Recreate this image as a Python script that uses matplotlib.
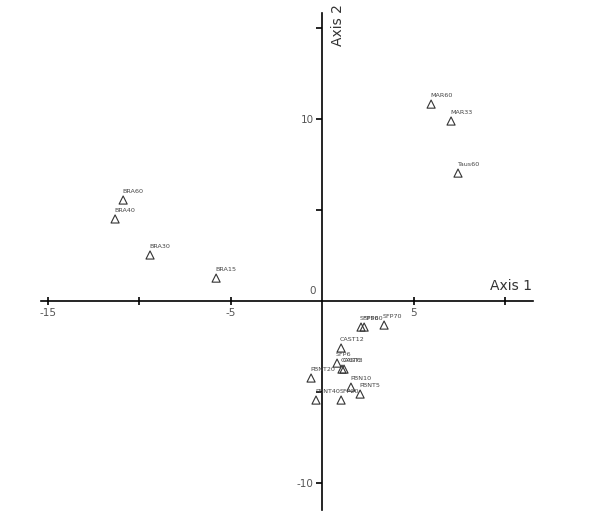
import matplotlib
matplotlib.use("Agg")
import matplotlib.pyplot as plt

labels = ["MAR60", "MAR33", "Taus60", "BRA60", "BRA40", "BRA30", "BRA15",
          "SFP70", "SFP50", "SFP60", "CAST12", "SFP6", "CAST6", "CAST3",
          "PBNT20", "PBN10", "PBNT5", "PBNT40", "SFP20"]
axis1 = [5.96, 7.05, 7.43, -10.87, -11.31, -9.40, -5.79,
         3.39, 2.13, 2.30, 1.04, 0.82, 1.09, 1.20,
         -0.60, 1.58, 2.08, -0.33, 1.04]
axis2 = [10.82, 9.89, 7.03, 5.55, 4.51, 2.53, 1.26,
         -1.32, -1.43, -1.43, -2.58, -3.41, -3.74, -3.74,
         -4.23, -4.73, -5.11, -5.44, -5.44]

xticks = [-15, -10, -5, 5, 10]
xticklabels = ["-15", "", "-5", "5", ""]
yticks = [-10, -5, 5, 10, 15]
yticklabels = ["-10", "", "", "10", ""]

fig = plt.figure(figsize=(6.0, 5.22), dpi=100)
ax = fig.add_axes([0, 0, 1, 1])
ax.set_xlim(-17.6, 15.19)
ax.set_ylim(-12.14, 16.54)

for s in ["top", "right"]:
    ax.spines[s].set_visible(False)
ax.spines["left"].set_position(("data", 0))
ax.spines["bottom"].set_position(("data", 0))
ax.spines["bottom"].set_bounds(-15.36, 11.53)
ax.spines["left"].set_bounds(-11.48, 15.82)
for s in ["left", "bottom"]:
    ax.spines[s].set_linewidth(1.2)
    ax.spines[s].set_color("black")

ax.set_xticks(xticks)
ax.set_xticklabels(xticklabels)
ax.set_yticks(yticks)
ax.set_yticklabels(yticklabels)
ax.tick_params(axis="x", direction="inout", length=6, width=1.2,
               labelsize=7.5, labelcolor="#555555", pad=2)
ax.tick_params(axis="y", direction="out", length=4, width=1.2,
               labelsize=7.5, labelcolor="#555555", pad=2)
ax.text(-0.35, 0.3, "0", fontsize=7.5, color="#555555", ha="right", va="bottom")

ax.scatter(axis1, axis2, marker="^", s=34, facecolors="none",
           edgecolors="#333333", linewidths=0.8, zorder=3)
for lab, x, y in zip(labels, axis1, axis2):
    ax.annotate(lab, (x, y), xytext=(-1, 6), textcoords="offset pixels",
                fontsize=4.6, color="#444444", ha="left", va="bottom")

ax.text(11.5, 0.45, "Axis 1", fontsize=10, color="#333333",
        ha="right", va="bottom")
ax.text(0.85, 16.3, "Axis 2", fontsize=10, color="#333333",
        rotation=90, ha="center", va="top")

fig.savefig("out.png", dpi=100)
